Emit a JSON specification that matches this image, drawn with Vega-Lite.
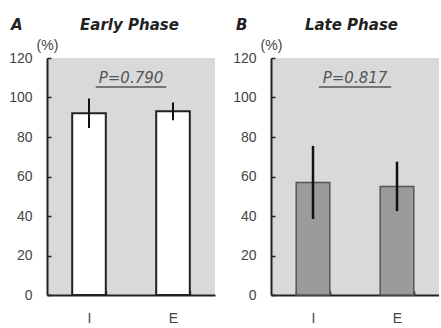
{
  "$schema": "https://vega.github.io/schema/vega-lite/v6.json",
  "background": "white",
  "padding": {"left": 8, "top": 18, "right": 0, "bottom": 0},
  "bounds": "flush",
  "spacing": 56,
  "config": {
    "view": {"fill": "#d9d9d9", "stroke": null},
    "axis": {"domainColor": "#222", "domainWidth": 2, "tickColor": "#222", "tickWidth": 1.5, "tickSize": -4, "labelFont": "Liberation Sans", "labelFontSize": 14, "labelColor": "#444", "grid": false, "labelOverlap": false},
    "axisX": {"labelAngle": 0, "labelPadding": 20, "tickBand": "extent", "labelBaseline": "top"},
    "axisY": {"labelPadding": 19, "labelOverlap": false, "titleAngle": 0, "titleX": 0, "titleY": -13, "titleAlign": "center", "titleBaseline": "middle", "titleFont": "Liberation Sans", "titleFontSize": 14, "titleFontWeight": "normal", "titleColor": "#444"},
    "title": {"font": "DejaVu Sans", "fontSize": 15, "fontWeight": "bold", "fontStyle": "italic", "anchor": "start", "frame": "group", "color": "#222", "offset": 5}
  },
  "hconcat": [
    {
      "width": 168,
      "height": 237,
      "title": {"text": "A\u00a0\u00a0\u00a0\u00a0\u00a0\u00a0\u00a0\u00a0\u00a0\u00a0\u00a0Early Phase", "dx": -36},
      "layer": [
        {
          "data": {"values": [
            {"group": "I", "mean": 92, "lo": 84.5, "hi": 99.5},
            {"group": "E", "mean": 93, "lo": 88.5, "hi": 97.5}
          ]},
          "layer": [
            {
              "mark": {"type": "bar", "fill": "white", "stroke": "#222", "strokeWidth": 2},
              "encoding": {
                "x": {"field": "group", "type": "nominal", "sort": ["I", "E"], "scale": {"type": "band", "paddingInner": 0.6, "paddingOuter": 0.3}, "axis": {"title": null}},
                "y": {"field": "mean", "type": "quantitative", "scale": {"domain": [0, 120]}, "axis": {"title": "(%)", "values": [0, 20, 40, 60, 80, 100, 120], "labelOverlap": false}}
              }
            },
            {
              "mark": {"type": "rule", "stroke": "#111", "strokeWidth": 2},
              "encoding": {
                "x": {"field": "group", "type": "nominal", "sort": ["I", "E"], "scale": {"type": "band", "paddingInner": 0.6, "paddingOuter": 0.3}},
                "y": {"field": "lo", "type": "quantitative", "axis": {"title": "(%)", "values": [0, 20, 40, 60, 80, 100, 120], "labelOverlap": false}},
                "y2": {"field": "hi"}
              }
            }
          ]
        },
        {
          "data": {"values": [{"label": "P=0.790", "pos": 1, "ty": 110, "u1": 0.58, "u2": 1.42, "uy": 105.3}]},
          "layer": [
            {
              "mark": {"type": "text", "font": "DejaVu Sans", "fontSize": 15, "fontStyle": "italic", "color": "#555", "baseline": "middle"},
              "encoding": {
                "x": {"field": "pos", "type": "quantitative", "scale": {"domain": [0, 2]}, "axis": null},
                "y": {"field": "ty", "type": "quantitative", "axis": {"title": "(%)", "values": [0, 20, 40, 60, 80, 100, 120], "labelOverlap": false}},
                "text": {"field": "label"}
              }
            },
            {
              "mark": {"type": "rule", "stroke": "#555", "strokeWidth": 1.5},
              "encoding": {
                "x": {"field": "u1", "type": "quantitative", "scale": {"domain": [0, 2]}, "axis": null},
                "x2": {"field": "u2"},
                "y": {"field": "uy", "type": "quantitative", "axis": {"title": "(%)", "values": [0, 20, 40, 60, 80, 100, 120], "labelOverlap": false}}
              }
            }
          ]
        }
      ],
      "resolve": {"scale": {"x": "independent"}}
    },
    {
      "width": 168,
      "height": 237,
      "title": {"text": "B\u00a0\u00a0\u00a0\u00a0\u00a0\u00a0\u00a0\u00a0\u00a0\u00a0\u00a0Late Phase", "dx": -35},
      "layer": [
        {
          "data": {"values": [
            {"group": "I", "mean": 57, "lo": 38.5, "hi": 75.5},
            {"group": "E", "mean": 55, "lo": 42.5, "hi": 67.5}
          ]},
          "layer": [
            {
              "mark": {"type": "bar", "fill": "#9b9b9b", "stroke": "#555", "strokeWidth": 1.5},
              "encoding": {
                "x": {"field": "group", "type": "nominal", "sort": ["I", "E"], "scale": {"type": "band", "paddingInner": 0.6, "paddingOuter": 0.3}, "axis": {"title": null}},
                "y": {"field": "mean", "type": "quantitative", "scale": {"domain": [0, 120]}, "axis": {"title": "(%)", "values": [0, 20, 40, 60, 80, 100, 120], "labelOverlap": false}}
              }
            },
            {
              "mark": {"type": "rule", "stroke": "#111", "strokeWidth": 2.5},
              "encoding": {
                "x": {"field": "group", "type": "nominal", "sort": ["I", "E"], "scale": {"type": "band", "paddingInner": 0.6, "paddingOuter": 0.3}},
                "y": {"field": "lo", "type": "quantitative", "axis": {"title": "(%)", "values": [0, 20, 40, 60, 80, 100, 120], "labelOverlap": false}},
                "y2": {"field": "hi"}
              }
            }
          ]
        },
        {
          "data": {"values": [{"label": "P=0.817", "pos": 1, "ty": 110, "u1": 0.57, "u2": 1.43, "uy": 105.3}]},
          "layer": [
            {
              "mark": {"type": "text", "font": "DejaVu Sans", "fontSize": 15, "fontStyle": "italic", "color": "#555", "baseline": "middle"},
              "encoding": {
                "x": {"field": "pos", "type": "quantitative", "scale": {"domain": [0, 2]}, "axis": null},
                "y": {"field": "ty", "type": "quantitative", "axis": {"title": "(%)", "values": [0, 20, 40, 60, 80, 100, 120], "labelOverlap": false}},
                "text": {"field": "label"}
              }
            },
            {
              "mark": {"type": "rule", "stroke": "#555", "strokeWidth": 1.5},
              "encoding": {
                "x": {"field": "u1", "type": "quantitative", "scale": {"domain": [0, 2]}, "axis": null},
                "x2": {"field": "u2"},
                "y": {"field": "uy", "type": "quantitative", "axis": {"title": "(%)", "values": [0, 20, 40, 60, 80, 100, 120], "labelOverlap": false}}
              }
            }
          ]
        }
      ],
      "resolve": {"scale": {"x": "independent"}}
    }
  ]
}
